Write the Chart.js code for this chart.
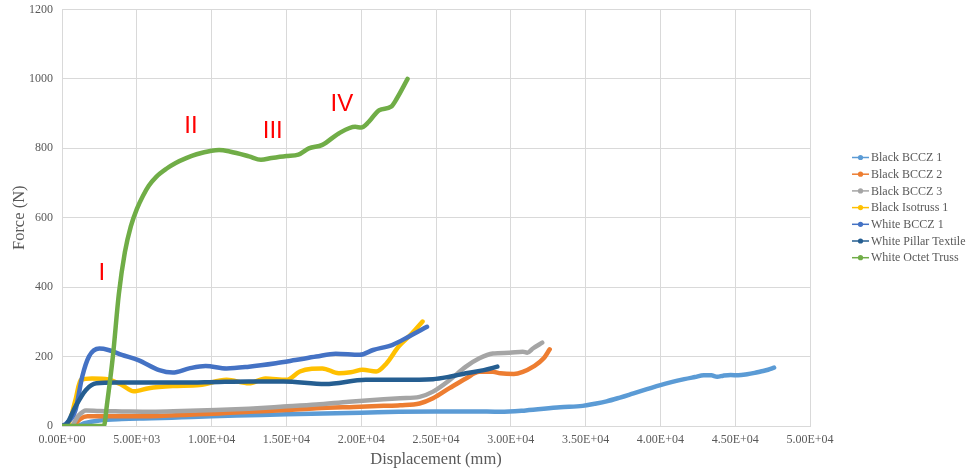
<!DOCTYPE html>
<html>
<head>
<meta charset="utf-8">
<script src="https://cdn.jsdelivr.net/npm/chart.js@4/dist/chart.umd.min.js"></script>
<style>
  html, body { margin: 0; padding: 0; background: #ffffff; }
  #wrap { width: 971px; height: 472px; position: relative; }
</style>
</head>
<body>
<div id="wrap"><canvas id="chart" width="971" height="472"></canvas></div>
<script>
// Series names
const seriesNames = [
  'Black BCCZ 1', 'Black BCCZ 2', 'Black BCCZ 3', 'Black Isotruss 1',
  'White BCCZ 1', 'White Pillar Textile', 'White Octet Truss'
];

// Black BCCZ 1
const bBccz1X = [0, 1000, 1500, 2500, 4000, 6000, 8000, 10000, 12500, 15000, 17500, 20000, 22500, 25000, 27500, 29300, 31000, 33300, 34800, 35600, 36400, 37300, 38200, 39100, 40000, 40800, 41600, 42300, 42900, 43400, 43800, 44200, 44700, 45200, 45800, 46300, 46700, 47200, 47600];
const bBccz1Y = [0, 0, 8, 16, 20, 22, 25, 28, 31, 34, 36, 38, 41, 42, 42, 41, 45, 54, 58, 64, 71, 82, 94, 106, 118, 127, 135, 141, 146, 146, 142, 145, 147, 146, 149, 153, 157, 162, 168];

// Black BCCZ 2
const bBccz2X = [0, 700, 1200, 1700, 3000, 5000, 8000, 10500, 12500, 15000, 17000, 19500, 21500, 22600, 23900, 24800, 25900, 27000, 27900, 28800, 29300, 30200, 30800, 31500, 32200, 32600];
const bBccz2Y = [0, 0, 20, 28, 28, 28, 32, 36, 41, 46, 51, 55, 58, 60, 65, 80, 109, 137, 156, 156, 152, 150, 156, 171, 195, 221];

// Black BCCZ 3
const bBccz3X = [0, 600, 1100, 1600, 2500, 4000, 6000, 8000, 10300, 12500, 14800, 17000, 19200, 21500, 22600, 23900, 24800, 25900, 27000, 27900, 28800, 29900, 30800, 31100, 31500, 32100];
const bBccz3Y = [0, 0, 30, 45, 43, 42, 41, 43, 46, 50, 56, 62, 70, 77, 80, 84, 99, 132, 171, 195, 209, 211, 214, 211, 224, 240];

// Black Isotruss 1
const bIsoX = [0, 400, 900, 1250, 2000, 3100, 4000, 4800, 5800, 7400, 9200, 11000, 12500, 13600, 15000, 15900, 16700, 17400, 18500, 19300, 20100, 21000, 21700, 22500, 23400, 24100];
const bIsoY = [0, 5, 75, 133, 137, 134, 118, 100, 109, 115, 118, 133, 123, 137, 133, 157, 165, 166, 152, 155, 162, 157, 181, 229, 267, 301];

// White BCCZ 1
const wBccz1X = [0, 300, 900, 1350, 1800, 2500, 3100, 4000, 5100, 6500, 7400, 8500, 9600, 11000, 12500, 14300, 15600, 17000, 18300, 19900, 20800, 22100, 23200, 24400];
const wBccz1Y = [0, 8, 46, 142, 200, 223, 219, 205, 190, 161, 154, 166, 173, 166, 171, 181, 190, 200, 208, 205, 219, 234, 258, 286];

// White Pillar Textile
const wPillarX = [0, 300, 900, 1600, 2300, 3600, 6000, 8000, 10500, 12500, 14800, 17600, 20300, 22600, 24800, 25900, 27000, 28200, 29100];
const wPillarY = [0, 5, 56, 104, 123, 125, 125, 125, 127, 128, 128, 121, 133, 133, 135, 142, 152, 161, 171];

// White Octet Truss
const wOctetX = [0, 2800, 3000, 3400, 3800, 4200, 4600, 5000, 5400, 5800, 6300, 7000, 7600, 8300, 9000, 10000, 10500, 11200, 12500, 13300, 14000, 15000, 15800, 16500, 17400, 18500, 19600, 20000, 20500, 21200, 22000, 22400, 23100];
const wOctetY = [0, 0, 60, 200, 380, 500, 575, 625, 662, 692, 718, 742, 758, 772, 783, 793, 795, 791, 777, 767, 772, 778, 782, 800, 810, 843, 862, 860, 876, 910, 920, 945, 1000];

// Line colours
const seriesColors = ['#5B9BD5', '#ED7D31', '#A5A5A5', '#FFC000', '#4472C4', '#255E91', '#70AD47'];

// Axis ticks
const xTickValues = [0, 5000, 10000, 15000, 20000, 25000, 30000, 35000, 40000, 45000, 50000];
const yTickValues = [0, 200, 400, 600, 800, 1000, 1200];

// Stage markers on the octet truss curve
const stageLabels = ['I', 'II', 'III', 'IV'];
const stageX = [2660, 8620, 14090, 18710];
const stageY = [440, 863, 848, 928];

const seriesX = [bBccz1X, bBccz2X, bBccz3X, bIsoX, wBccz1X, wPillarX, wOctetX];
const seriesY = [bBccz1Y, bBccz2Y, bBccz3Y, bIsoY, wBccz1Y, wPillarY, wOctetY];

const serif = "'Liberation Serif', 'Times New Roman', serif";
const textGrey = '#595959';
const gridGrey = '#D9D9D9';

function sci(v) {
  if (v === 0) return '0.00E+00';
  const e = Math.floor(Math.log10(Math.abs(v)) + 1e-9);
  const m = v / Math.pow(10, e);
  return m.toFixed(2) + 'E' + (e < 0 ? '-' : '+') + String(Math.abs(e)).padStart(2, '0');
}

const datasets = seriesNames.map((name, i) => ({
  label: name,
  data: seriesX[i].map((x, k) => ({ x: x, y: seriesY[i][k] })),
  borderColor: seriesColors[i],
  backgroundColor: seriesColors[i],
  borderWidth: 4.5,
  pointRadius: 0,
  pointHoverRadius: 0,
  cubicInterpolationMode: 'monotone',
  borderCapStyle: 'round',
  borderJoinStyle: 'round',
  order: seriesNames.length - 1 - i,
  fill: false
}));

// Legend drawn at the right: short line with a dot, then the name
const sideLegend = {
  id: 'sideLegend',
  afterDraw(chart) {
    const ctx = chart.ctx;
    ctx.save();
    ctx.font = '12px ' + serif;
    ctx.textBaseline = 'middle';
    ctx.textAlign = 'left';
    chart.data.datasets.forEach((ds, i) => {
      const y = 157.5 + i * 16.7;
      ctx.strokeStyle = ds.borderColor;
      ctx.lineWidth = 1.5;
      ctx.beginPath();
      ctx.moveTo(852, y);
      ctx.lineTo(869, y);
      ctx.stroke();
      ctx.fillStyle = ds.borderColor;
      ctx.beginPath();
      ctx.arc(860.5, y, 2.6, 0, Math.PI * 2);
      ctx.fill();
      ctx.fillStyle = textGrey;
      ctx.fillText(ds.label, 871, y + 0.5);
    });
    ctx.restore();
  }
};

// Red stage numerals placed in data coordinates
const stageMarks = {
  id: 'stageMarks',
  afterDatasetsDraw(chart) {
    const ctx = chart.ctx;
    const xs = chart.scales.x, ys = chart.scales.y;
    ctx.save();
    ctx.font = "24px 'Liberation Sans', Arial, sans-serif";
    ctx.fillStyle = '#FF0000';
    ctx.textAlign = 'center';
    ctx.textBaseline = 'middle';
    stageLabels.forEach((t, i) => {
      ctx.fillText(t, xs.getPixelForValue(stageX[i]), ys.getPixelForValue(stageY[i]));
    });
    ctx.restore();
  }
};

new Chart(document.getElementById('chart'), {
  type: 'line',
  data: { datasets: datasets },
  plugins: [stageMarks, sideLegend],
  options: {
    responsive: false,
    animation: false,
    layout: { padding: { left: 0, top: 9.5, right: 161, bottom: 0 } },
    plugins: {
      legend: { display: false },
      tooltip: { enabled: false }
    },
    scales: {
      x: {
        type: 'linear',
        min: 0,
        max: 50000,
        afterBuildTicks(scale) { scale.ticks = xTickValues.map(v => ({ value: v })); },
        afterFit(scale) { scale.height = 46; },
        grid: { color: gridGrey, lineWidth: 1, drawTicks: false },
        border: { color: gridGrey, width: 1 },
        ticks: {
          autoSkip: false,
          maxRotation: 0,
          padding: 7,
          color: textGrey,
          font: { family: serif, size: 12 },
          callback: v => sci(v)
        },
        title: {
          display: true,
          text: 'Displacement (mm)',
          color: textGrey,
          font: { family: serif, size: 16.5 },
          padding: { top: 0, bottom: 2 }
        }
      },
      y: {
        type: 'linear',
        min: 0,
        max: 1200,
        afterBuildTicks(scale) { scale.ticks = yTickValues.map(v => ({ value: v })); },
        afterFit(scale) {
          scale.width = 62;
          scale.paddingTop = 0;
          scale.paddingBottom = 0;
        },
        grid: { color: gridGrey, lineWidth: 1, drawTicks: false },
        border: { color: gridGrey, width: 1 },
        ticks: {
          padding: 9,
          color: textGrey,
          font: { family: serif, size: 12 },
          callback: v => String(v)
        },
        title: {
          display: true,
          text: 'Force (N)',
          color: textGrey,
          font: { family: serif, size: 16.5 },
          padding: { top: 10, bottom: 0 }
        }
      }
    }
  }
});
</script>
</body>
</html>
